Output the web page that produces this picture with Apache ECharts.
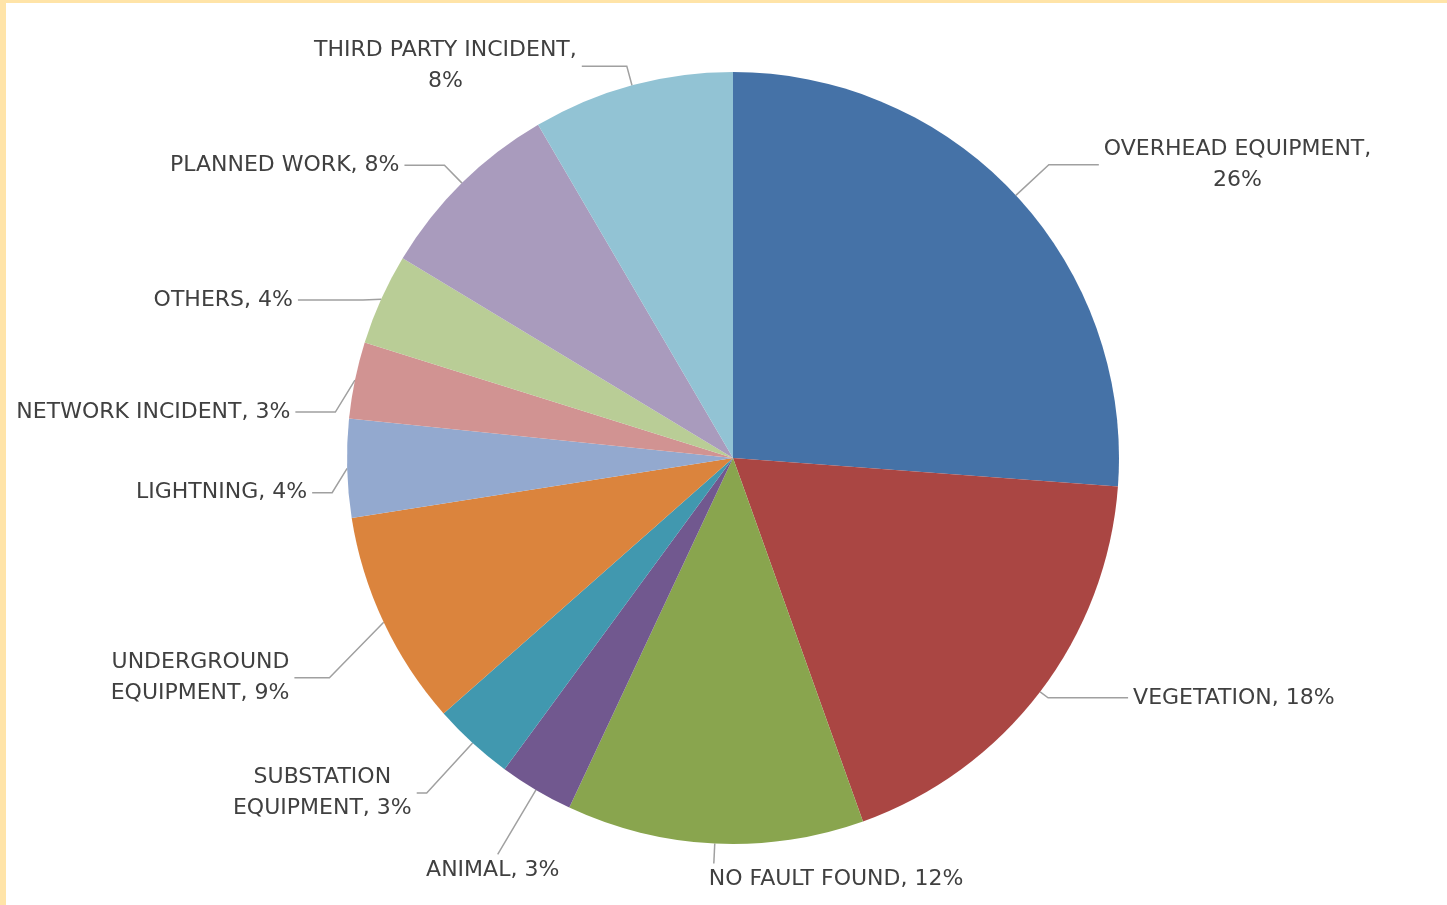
<!DOCTYPE html>
<html style="height: 100%; margin: 0">
<head>
<meta charset="UTF-8">
<title>Fault causes</title>
</head>
<body style="height: 100%; margin: 0; background: #FFE4A8">
<div id="container" style="position:absolute; left:6px; top:3px; right:0; bottom:0; background:#fff"></div>
<script type="text/javascript" src="https://cdn.jsdelivr.net/npm/echarts@6/dist/echarts.min.js"></script>
<script type="text/javascript">
	// categories, clockwise from 12 o'clock
	var causes = ['OVERHEAD EQUIPMENT', 'VEGETATION', 'NO FAULT FOUND', 'ANIMAL',
		'SUBSTATION\nEQUIPMENT', 'UNDERGROUND\nEQUIPMENT', 'LIGHTNING', 'NETWORK INCIDENT',
		'OTHERS', 'PLANNED WORK', 'THIRD PARTY INCIDENT'];
	// share of faults, % (labels show them rounded)
	var shares = [26.1, 18.3, 12.4, 3.1, 3.4, 9.0, 4.1, 3.2, 3.8, 7.9, 8.4];
	var colors = ['#4572A7', '#AA4643', '#89A54E', '#71588F', '#4198AF', '#DB843D',
		'#93A9CF', '#D19392', '#B9CD96', '#A99BBD', '#92C3D4'];
	// labels that break the line after the comma
	var breakAfterComma = ['OVERHEAD EQUIPMENT', 'THIRD PARTY INCIDENT'];

	// leader line lengths (radial part, horizontal part)
	var lineLen = [45, 10, 20, 75, 68, 60, 15, 20, 20, 25, 20];
	var lineLen2 = [50, 80, 0, 0, 10, 35, 20, 40, 65, 40, 45];
	// label tweaks by slice index: alignment, centred lines, and a drop that moves the line end too
	var labelTweak = {
		0: { center: true },
		2: { align: 'left', verticalAlign: 'top' },
		3: { align: 'center', verticalAlign: 'top' },
		4: { center: true },
		5: { drop: 30 },
		6: { drop: 24 },
		7: { drop: 36 },
		8: { drop: 9 },
		10: { center: true }
	};

	var data = [];
	for (var i = 0; i < causes.length; i++) {
		data.push({
			name: causes[i],
			value: shares[i],
			itemStyle: { color: colors[i] },
			labelLine: { length: lineLen[i], length2: lineLen2[i] }
		});
	}

	var dom = document.getElementById("container");
	var myChart = echarts.init(dom);
	var option = {
		animation: false,
		series: [{
			type: 'pie',
			center: [727, 455],
			radius: 386,
			startAngle: 90,
			clockwise: true,
			avoidLabelOverlap: false,
			itemStyle: { borderWidth: 0 },
			label: {
				show: true,
				position: 'outside',
				color: '#404040',
				fontFamily: 'DejaVu Sans',
				fontSize: 22,
				lineHeight: 31,
				formatter: function (p) {
					var pct = Math.round(p.value) + '%';
					var sep = breakAfterComma.indexOf(p.name) >= 0 ? ',\n' : ', ';
					return p.name + sep + pct;
				}
			},
			labelLine: {
				show: true,
				lineStyle: { color: '#a0a0a0', width: 1.5 }
			},
			labelLayout: function (params) {
				var t = labelTweak[params.dataIndex];
				if (!t) return {};
				if (t.center) {
					var half = params.labelRect.width / 2;
					return { align: 'center', dx: params.align === 'right' ? -half : half };
				}
				if (!t.drop) return t;
				var pts = params.labelLinePoints;
				if (!pts) return { dy: t.drop };
				var moved = pts.map(function (p, k) {
					return k === 0 ? [p[0], p[1]] : [p[0], p[1] + t.drop];
				});
				return { dy: t.drop, labelLinePoints: moved };
			},
			data: data
		}]
	};
	myChart.setOption(option, true);
</script>
</body>
</html>
